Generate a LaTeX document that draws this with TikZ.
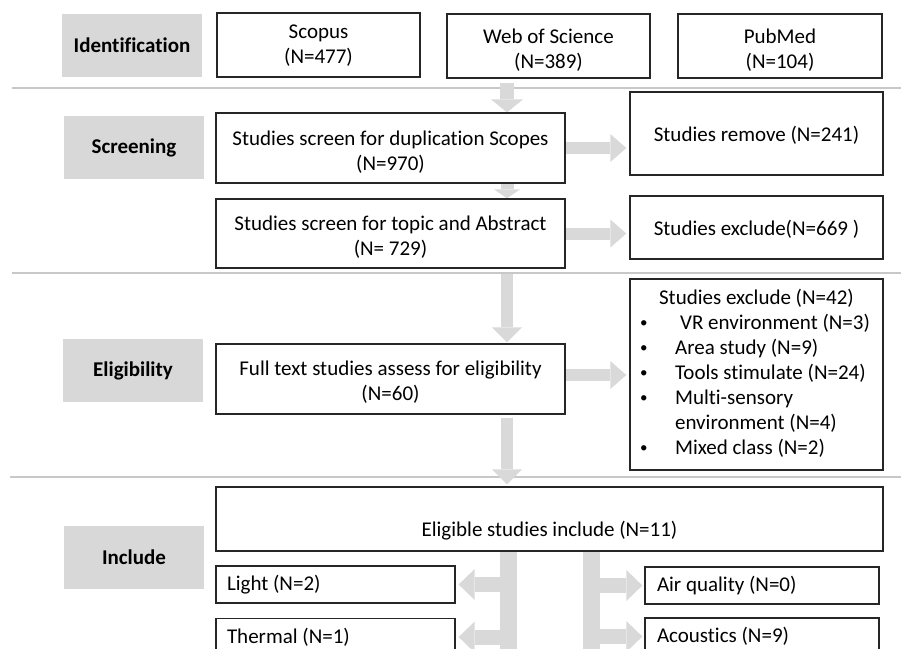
\documentclass[tikz,border=0pt]{standalone}
\usepackage{fontspec}
\setmainfont{Carlito}[Ligatures={NoCommon}]
\usetikzlibrary{arrows.meta,calc,backgrounds}
\definecolor{agray}{HTML}{D9D9D9}
\definecolor{lgray}{HTML}{D8D8D8}
\definecolor{sgray}{HTML}{C8C8C8}
\definecolor{bline}{HTML}{262626}
\newcommand{\smallbul}{\hspace{-3pt}\raisebox{2pt}{\fontsize{15}{15}\selectfont\textbullet}}
\newcommand{\twol}[3]{\begin{tabular}{@{}c@{}}\rule{0pt}{#1}#2\\#3\end{tabular}}
\begin{document}
\begin{tikzpicture}[x=1pt,y=-1pt,
  every node/.style={font=\fontsize{21}{25}\selectfont, inner sep=0pt},
  box/.style={draw=bline, line width=1.3pt, align=center, fill=white},
  onebox/.style={box, execute at begin node={\rule{0pt}{18pt}}},
  lab/.style={fill=lgray, font=\fontsize{21}{25}\selectfont\bfseries, minimum width=140pt, minimum height=63pt},
  smallbox/.style={box, align=flush left, inner xsep=11pt, minimum height=37pt},
  sepline/.style={draw=sgray, line width=1.5pt},
  vdown/.style={draw=agray, line width=13pt, -{Triangle[width=30pt,length=15pt,line width=0pt]}},
  hright/.style={draw=agray, line width=12pt, -{Triangle[width=28pt,length=16pt,line width=0pt]}},
  bentarr/.style={draw=agray, line width=15pt, -{Triangle[width=31pt,length=16pt,line width=0pt]}},
  gbar/.style={draw=agray, line width=17pt}]
\useasboundingbox (0,0) rectangle (901,648);

% Identification
\node[lab] (idl) at (132,45) {Identification};
\node[box, minimum width=203pt, minimum height=64pt] (scopus) at (318.5,45) {\twol{20pt}{Scopus}{(N=477)}};
\node[box, minimum width=203pt, minimum height=64pt] (wos) at (548.5,46) {\twol{27pt}{Web of Science}{(N=389)}};
\node[box, minimum width=204pt, minimum height=64pt] (pubmed) at (780,46) {\twol{27pt}{PubMed}{(N=104)}};

% Screening
\node[lab] (sl) at (134,147.5) {Screening};
\node[box, minimum width=349pt, minimum height=70pt] (dup) at (390.5,148) {\twol{26.5pt}{Studies screen for duplication Scopes}{(N=970)}};
\node[onebox, minimum width=253pt, minimum height=83pt] (rem) at (756.5,133.5) {Studies remove (N=241)};
\node[box, minimum width=349pt, minimum height=69pt] (topic) at (390.5,233.5) {\twol{26.5pt}{Studies screen for topic and Abstract}{(N= 729)}};
\node[onebox, minimum width=253pt, minimum height=63pt] (exc1) at (756.5,227.5) {Studies exclude(N=669 )};

% Eligibility
\node[lab] (el) at (133,370.5) {Eligibility};
\node[box, minimum width=349pt, minimum height=70pt] (full) at (390.5,379) {\twol{25pt}{Full text studies assess for eligibility}{(N=60)}};
\node[box, minimum width=253pt, minimum height=191pt] (exc2) at (756.5,374.5) {%
\begin{tabular}{@{}p{32pt}@{}l@{}}
\multicolumn{2}{@{}l@{}}{\hspace{16pt}Studies exclude (N=42)}\\
\smallbul & \hspace{5pt}VR environment (N=3)\\
\smallbul & Area study (N=9)\\
\smallbul & Tools stimulate (N=24)\\
\smallbul & Multi-sensory\\
 & environment (N=4)\\
\smallbul & Mixed class (N=2)
\end{tabular}};

% Include
\node[lab] (inl) at (134,557.5) {Include};
\node[box, minimum width=667pt, minimum height=64pt] (elig) at (549.5,519) {};
\node (eligt) at ($(elig.center)+(0,11.5)$) {Eligible studies include (N=11)};
\node[smallbox, text width=217pt] (light) at (335.5,584.5) {Light (N=2)};
\node[smallbox, text width=217pt] (thermal) at (335.5,637) {Thermal (N=1)};
\node[smallbox, text width=210pt, inner xsep=12pt] (air) at (762,585.5) {Air quality (N=0)};
\node[smallbox, text width=210pt, inner xsep=12pt] (acou) at (762,636.5) {Acoustics (N=9)};

\coordinate (ax) at (507,0);
\coordinate (lt) at (508.5,0);
\coordinate (rt) at (591.5,0);
\coordinate (lb) at (508.5,660);
\coordinate (rb) at (591.5,660);
\coordinate (sl0) at (12,88);
\coordinate (sr0) at (901,88);
\coordinate (sl1) at (12,273);
\coordinate (sr1) at (901,273);
\coordinate (sl2) at (10,477);
\coordinate (sr2) at (901,477);
\coordinate (fe) at (565,375);

\begin{scope}[on background layer]
\draw[sepline] (sl0) -- (sr0);
\draw[sepline] (sl1) -- (sr1);
\draw[sepline] (sl2) -- (sr2);
% down arrows
\draw[vdown, line width=14pt, -{Triangle[width=32pt,length=13pt,line width=0pt]}, shorten <=4pt] (wos.south -| ax) -- (dup.north -| ax);
\draw[vdown, -{Triangle[width=26pt,length=9pt,line width=0pt]}] (dup.south -| ax) -- (topic.north -| ax);
\draw[vdown, line width=12pt, shorten <=5pt, shorten >=1pt] (topic.south -| ax) -- (full.north -| ax);
\draw[vdown, line width=12pt, shorten <=3pt, shorten >=2pt] (full.south -| ax) -- (elig.north -| ax);
% right arrows
\draw[hright, shorten >=3pt] (dup.east) -- (dup.east -| rem.west);
\draw[hright, shorten >=3pt] (topic.east) -- (topic.east -| exc1.west);
\draw[hright, shorten >=3pt] (fe) -- (fe -| exc2.west);
% branching arrows
\draw[gbar] (elig.south -| lt) -- (lb);
\draw[gbar] (elig.south -| rt) -- (rb);
\draw[bentarr, shorten >=3pt] (lt |- light.east) -- (light.east);
\draw[bentarr, shorten >=3pt] (lt |- thermal.east) -- (thermal.east);
\draw[bentarr, shorten >=2pt] (rt |- air.west) -- (air.west);
\draw[bentarr, shorten >=2pt] (rt |- acou.west) -- (acou.west);
\end{scope}
\end{tikzpicture}
\end{document}
